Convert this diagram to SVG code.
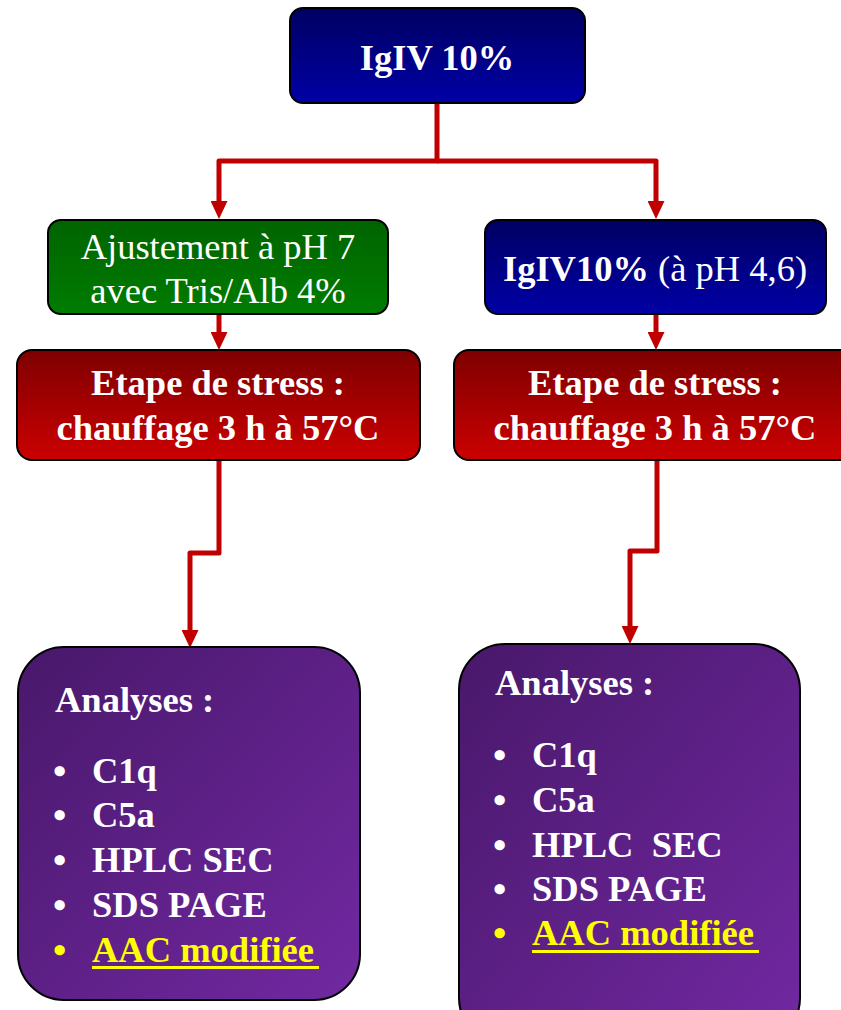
<svg xmlns="http://www.w3.org/2000/svg" width="841" height="1010" viewBox="0 0 841 1010">
  <style>
    .box { stroke: #000; stroke-width: 2; }
    .t { font-family: "Liberation Serif", "Times New Roman", serif; fill: #fff; font-size: 36.5px; }
    .b { font-weight: bold; }
    .c { text-anchor: middle; }
    .y { fill: #ffff00; }
    .bul { font-size: 38px; }
    .conn { fill: none; stroke: #c00000; stroke-width: 5; stroke-linejoin: round; marker-end: url(#arrow); }
  </style>
  <defs>
    <linearGradient id="gBlue" x1="0" y1="0" x2="0" y2="1">
      <stop offset="0" stop-color="#000062"/>
      <stop offset="1" stop-color="#0000a6"/>
    </linearGradient>
    <linearGradient id="gGreen" x1="0" y1="0" x2="0" y2="1">
      <stop offset="0" stop-color="#006400"/>
      <stop offset="1" stop-color="#007c00"/>
    </linearGradient>
    <linearGradient id="gRed" x1="0" y1="0" x2="0" y2="1">
      <stop offset="0" stop-color="#7e0000"/>
      <stop offset="1" stop-color="#cc0000"/>
    </linearGradient>
    <linearGradient id="gPurple" x1="0" y1="0" x2="1" y2="1">
      <stop offset="0" stop-color="#48186a"/>
      <stop offset="1" stop-color="#7228a2"/>
    </linearGradient>
    <marker id="arrow" viewBox="0 0 18 17" refX="8" refY="8.5" markerWidth="18" markerHeight="17" markerUnits="userSpaceOnUse" orient="auto">
      <path d="M0,0 L18,8.5 L0,17 z" fill="#c00000"/>
    </marker>
  </defs>

  <g id="connectors">
    <path class="conn" d="M437,103 V161 H219 V209"/>
    <path class="conn" d="M437,161 H656 V209"/>
    <path class="conn" d="M219,314 V340"/>
    <path class="conn" d="M656,314 V340"/>
    <path class="conn" d="M219,460 V553 H190 V638"/>
    <path class="conn" d="M657,460 V551 H630 V634"/>
  </g>

  <g id="igiv">
    <rect class="box" x="290" y="8" width="295" height="95" rx="13" fill="url(#gBlue)"/>
    <text class="t b c" x="437" y="70">IgIV 10%</text>
  </g>

  <g id="ajustement">
    <rect class="box" x="48" y="220" width="340" height="94" rx="13" fill="url(#gGreen)"/>
    <text class="t c" x="218" y="259">Ajustement à pH 7</text>
    <text class="t c" x="218" y="303">avec Tris/Alb 4%</text>
  </g>

  <g id="igiv-ph46">
    <rect class="box" x="485" y="220" width="341" height="94" rx="13" fill="url(#gBlue)"/>
    <text class="t c" x="655" y="281"><tspan class="b">IgIV10%</tspan> (à pH 4,6)</text>
  </g>

  <g id="stress-left">
    <rect class="box" x="17" y="350" width="403" height="110" rx="15" fill="url(#gRed)"/>
    <text class="t b c" x="218" y="395">Etape de stress :</text>
    <text class="t b c" x="218" y="440">chauffage 3 h à 57°C</text>
  </g>

  <g id="stress-right">
    <rect class="box" x="454" y="350" width="403" height="110" rx="15" fill="url(#gRed)"/>
    <text class="t b c" x="655" y="395">Etape de stress :</text>
    <text class="t b c" x="655" y="440">chauffage 3 h à 57°C</text>
  </g>

  <g id="analyses-left">
    <rect class="box" x="18" y="647" width="342" height="353" rx="46" fill="url(#gPurple)"/>
    <text class="t b" x="55" y="712">Analyses :</text>
    <text class="t b bul" x="53" y="784">•</text>
    <text class="t b" x="92" y="783">C1q</text>
    <text class="t b bul" x="53" y="828">•</text>
    <text class="t b" x="92" y="827">C5a</text>
    <text class="t b bul" x="53" y="873">•</text>
    <text class="t b" x="92" y="872">HPLC SEC</text>
    <text class="t b bul" x="53" y="918">•</text>
    <text class="t b" x="92" y="917">SDS PAGE</text>
    <text class="t b bul y" x="53" y="963">•</text>
    <text class="t b y" x="92" y="962">AAC modifiée</text>
    <rect x="92" y="966" width="227" height="3" fill="#ffff00"/>
  </g>

  <g id="analyses-right">
    <rect class="box" x="459" y="644" width="341" height="400" rx="46" fill="url(#gPurple)"/>
    <text class="t b" x="495" y="695">Analyses :</text>
    <text class="t b bul" x="493" y="768">•</text>
    <text class="t b" x="532" y="767">C1q</text>
    <text class="t b bul" x="493" y="813">•</text>
    <text class="t b" x="532" y="812">C5a</text>
    <text class="t b bul" x="493" y="858">•</text>
    <text class="t b" x="532" y="857" xml:space="preserve">HPLC  SEC</text>
    <text class="t b bul" x="493" y="902">•</text>
    <text class="t b" x="532" y="901">SDS PAGE</text>
    <text class="t b bul y" x="493" y="946">•</text>
    <text class="t b y" x="532" y="945">AAC modifiée</text>
    <rect x="532" y="950" width="227" height="3" fill="#ffff00"/>
  </g>
</svg>
